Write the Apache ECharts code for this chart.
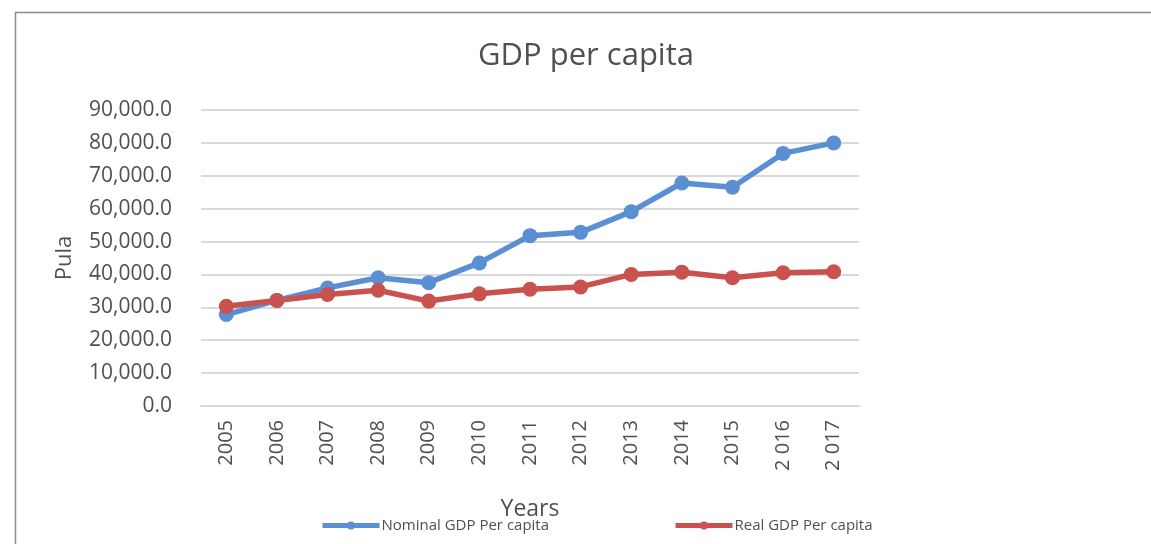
<!DOCTYPE html>
<html>
<head>
<meta charset="utf-8">
<script src="https://cdn.jsdelivr.net/npm/echarts@6/dist/echarts.min.js"></script>
<style>
  html, body { margin: 0; padding: 0; background: #fff; }
  #chart { width: 1151px; height: 544px; }
</style>
</head>
<body>
<div id="chart"></div>
<script>
const years = ['2005', '2006', '2007', '2008', '2009', '2010', '2011', '2012', '2013', '2014', '2015', '2 016', '2 017'];
const nominalGdp = [27800, 32100, 35900, 39000, 37500, 43500, 51800, 52800, 59100, 67800, 66500, 76800, 80000];
const realGdp = [30300, 32100, 33900, 35200, 31900, 34100, 35500, 36200, 40000, 40700, 39000, 40500, 40800];

const fontFamily = '"Open Sans", sans-serif';
const textColor = '#505050';
const blue = '#5B8FD3';
const red = '#C9514E';

const fmt = (v) => {
  const s = String(Math.round(v)).replace(/\B(?=(\d{3})+(?!\d))/g, ',');
  return s + '.0';
};

const chart = echarts.init(document.getElementById('chart'));

const legendBase = {
  top: 513,
  itemWidth: 57,
  itemHeight: 10,
  itemGap: 0,
  lineStyle: { width: 5 },
  textStyle: { fontFamily: fontFamily, fontSize: 15, color: textColor, padding: [0, 0, 0, -3] }
};

const option = {
  animation: false,
  textStyle: { fontFamily: fontFamily },
  title: {
    text: 'GDP per capita',
    left: 473,
    top: 36,
    textStyle: { fontFamily: fontFamily, fontSize: 31, fontWeight: 'normal', color: textColor }
  },
  legend: [
    Object.assign({}, legendBase, { data: ['Nominal GDP Per capita'], left: 315 }),
    Object.assign({}, legendBase, { data: ['Real GDP Per capita'], left: 668 })
  ],
  grid: {
    left: 201,
    right: 292,
    top: 110,
    bottom: 138,
    containLabel: false
  },
  xAxis: {
    type: 'category',
    data: years,
    name: 'Years',
    nameLocation: 'middle',
    nameGap: 92,
    nameTextStyle: { fontFamily: fontFamily, fontSize: 23, color: textColor },
    axisLine: { lineStyle: { color: '#d9d9d9', width: 2 } },
    axisTick: { show: false },
    axisLabel: { rotate: 90, margin: 14, fontFamily: fontFamily, fontSize: 20, color: textColor }
  },
  yAxis: {
    type: 'value',
    min: 0,
    max: 90000,
    interval: 10000,
    name: 'Pula',
    nameLocation: 'middle',
    nameGap: 125,
    nameRotate: 90,
    nameTextStyle: { fontFamily: fontFamily, fontSize: 22, color: textColor },
    axisLine: { show: false },
    axisTick: { show: false },
    axisLabel: { margin: 29, fontFamily: fontFamily, fontSize: 21, color: textColor, formatter: fmt },
    splitLine: { lineStyle: { color: '#d9d9d9', width: 2 } }
  },
  series: [
    {
      name: 'Nominal GDP Per capita',
      type: 'line',
      data: nominalGdp,
      symbol: 'circle',
      symbolSize: 15,
      lineStyle: { color: blue, width: 5.5 },
      itemStyle: { color: blue }
    },
    {
      name: 'Real GDP Per capita',
      type: 'line',
      data: realGdp,
      symbol: 'circle',
      symbolSize: 15,
      lineStyle: { color: red, width: 5.5 },
      itemStyle: { color: red }
    }
  ],
  graphic: [
    {
      type: 'polyline',
      shape: { points: [[15.5, 544], [15.5, 12.5], [1151, 12.5]] },
      style: { stroke: '#8c8c8c', lineWidth: 1.5, fill: null }
    }
  ]
};

chart.setOption(option);

window.addEventListener('resize', () => {
  chart.resize();
});
</script>
</body>
</html>
